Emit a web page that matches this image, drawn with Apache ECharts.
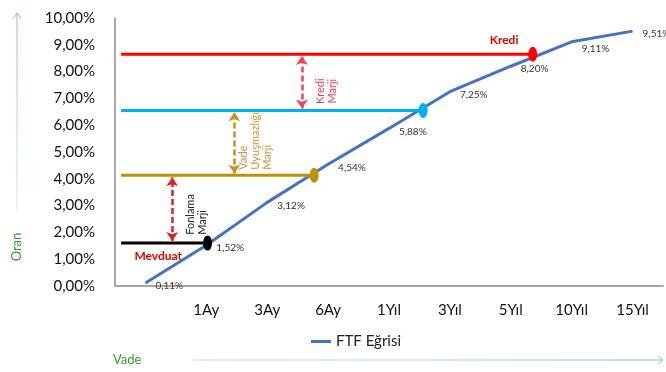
<!DOCTYPE html>
<html>
<head>
<meta charset="utf-8">
<script src="https://cdn.jsdelivr.net/npm/echarts@6/dist/echarts.min.js"></script>
<style>
  html, body { margin: 0; padding: 0; background: #fff; }
  #chart { width: 666px; height: 372px; }
</style>
</head>
<body>
<div id="chart"></div>
<script>
// Vade kategorileri ve FTF eğrisi (%)
const categories = ['', '1Ay', '3Ay', '6Ay', '1Yıl', '3Yıl', '5Yıl', '10Yıl', '15Yıl'];
const ftfValues = [0.11, 1.52, 3.12, 4.54, 5.88, 7.25, 8.20, 9.11, 9.51];

// Faiz seviyeleri: [başlangıç x, bitiş x (eğriyle kesişim), oran]
const krediLevel = [-0.4, 6.36, 8.65];
const vadeLevel = [-0.4, 4.56, 6.55];
const fonlamaLevel = [-0.4, 2.77, 4.13];
const mevduatLevel = [-0.4, 1.02, 1.60];

// Marj okları: [x, alt oran, üst oran]
const krediMarjArrow = [2.57, 6.62, 8.58];
const vadeMarjArrow = [1.46, 4.20, 6.48];
const fonlamaMarjArrow = [0.44, 1.68, 4.06];

const FONT = 'Lato, "Open Sans", sans-serif';
const fmtPct = v => v.toFixed(2).replace('.', ',') + '%';

function levelSeries(name, level, color) {
  return {
    name: name,
    type: 'line',
    xAxisIndex: 1,
    yAxisIndex: 0,
    data: [
      { value: [level[0], level[2]], symbol: 'none' },
      { value: [level[1], level[2]] }
    ],
    symbol: 'circle',
    symbolSize: [9, 15],
    showSymbol: true,
    itemStyle: { color: color },
    lineStyle: { color: color, width: 3 },
    emphasis: { disabled: true },
    silent: true,
    z: 3
  };
}

function arrowSeries(arrow, color) {
  return {
    type: 'line',
    xAxisIndex: 1,
    yAxisIndex: 0,
    data: [],
    silent: true,
    markLine: {
      silent: true,
      symbol: ['arrow', 'arrow'],
      symbolSize: [9, 9],
      label: { show: false },
      lineStyle: { color: color, width: 2.5, type: [6, 3] },
      data: [[{ coord: [arrow[0], arrow[1]] }, { coord: [arrow[0], arrow[2]] }]]
    }
  };
}

const chart = echarts.init(document.getElementById('chart'), null, { renderer: 'canvas' });

const option = {
  animation: false,
  textStyle: { fontFamily: FONT },
  grid: { left: 115, right: 3, top: 18, bottom: 86, containLabel: false },
  legend: {
    data: [{ name: 'FTF Eğrisi', icon: 'rect' }],
    bottom: 18,
    left: 306,
    itemWidth: 20,
    itemHeight: 3,
    itemGap: 4,
    textStyle: { fontFamily: FONT, fontSize: 15, color: '#222' }
  },
  xAxis: [
    {
      type: 'category',
      data: categories,
      boundaryGap: true,
      axisLine: { lineStyle: { color: '#a6a6a6', width: 2 } },
      axisTick: { show: false },
      axisLabel: { fontFamily: FONT, fontSize: 15, color: '#111', margin: 17 },
      splitLine: { show: false }
    },
    {
      type: 'value',
      min: -0.5,
      max: 8.5,
      show: false,
      splitLine: { show: false }
    }
  ],
  yAxis: {
    type: 'value',
    min: 0,
    max: 10,
    interval: 1,
    axisLine: { show: true, onZero: false, lineStyle: { color: '#8c8c8c', width: 1.5 } },
    axisTick: { show: false },
    splitLine: { show: false },
    axisLabel: {
      fontFamily: FONT, fontSize: 15, color: '#111', margin: 20,
      formatter: fmtPct
    }
  },
  series: [
    levelSeries('Kredi', krediLevel, '#ff0000'),
    levelSeries('Vade', vadeLevel, '#00b0f0'),
    levelSeries('Fonlama', fonlamaLevel, '#bf9000'),
    levelSeries('Mevduat', mevduatLevel, '#000000'),
    arrowSeries(krediMarjArrow, '#f0405a'),
    arrowSeries(vadeMarjArrow, '#c8902a'),
    arrowSeries(fonlamaMarjArrow, '#e02020'),
    {
      name: 'FTF Eğrisi',
      type: 'line',
      xAxisIndex: 0,
      yAxisIndex: 0,
      data: ftfValues.map((v, i) => (categories[i] === '10Yıl'
        ? { value: v, label: { position: [10, 7] } }
        : v)),
      symbol: 'circle',
      symbolSize: 0,
      showSymbol: true,
      itemStyle: { color: '#4472c4' },
      lineStyle: { color: '#4472c4', width: 3 },
      label: {
        show: true,
        position: [10, 3],
        align: 'left',
        verticalAlign: 'middle',
        fontFamily: FONT,
        fontSize: 10,
        color: '#333',
        formatter: p => fmtPct(p.value)
      },
      labelLayout: { hideOverlap: false },
      silent: true,
      z: 2
    }
  ]
};

chart.setOption(option);

// Açıklama metinleri ve eksen okları
function px(x, y) {
  return chart.convertToPixel({ xAxisIndex: 1, yAxisIndex: 0 }, [x, y]);
}

const krediText = px(5.89, 9.18);
const mevduatText = px(0.21, 1.12);
const krediMarjText = px(2.98, 7.27);
const vadeMarjText = px(1.80, 4.34);
const fonlamaMarjText = px(0.84, 1.91);

function rotatedText(pos, text, color, align) {
  return {
    type: 'text',
    x: pos[0],
    y: pos[1],
    rotation: Math.PI / 2,
    style: {
      text: text,
      fill: color,
      font: '11px ' + FONT,
      align: align,
      verticalAlign: 'middle',
      lineHeight: 12
    },
    z: 10
  };
}

chart.setOption({
  graphic: [
    {
      type: 'text', x: krediText[0], y: krediText[1],
      style: { text: 'Kredi', fill: '#e00000', font: 'bold 12px ' + FONT, align: 'center', verticalAlign: 'middle' }
    },
    {
      type: 'text', x: mevduatText[0], y: mevduatText[1],
      style: { text: 'Mevduat', fill: '#e00000', font: 'bold 12px ' + FONT, align: 'center', verticalAlign: 'middle' }
    },
    rotatedText(krediMarjText, 'Kredi\nMarji', '#f0405a', 'center'),
    rotatedText(vadeMarjText, 'Vade\nUyuşmazlığı\nMarji', '#c8963c', 'left'),
    rotatedText(fonlamaMarjText, 'Fonlama\nMarji', '#222', 'left'),
    // Dikey eksen başlığı ve oku
    {
      type: 'line',
      shape: { x1: 17, y1: 210, x2: 17, y2: 13 },
      style: {
        stroke: new echarts.graphic.LinearGradient(0, 1, 0, 0, [
          { offset: 0, color: '#dbe8f5' },
          { offset: 1, color: '#8fb8e0' }
        ]),
        lineWidth: 1
      }
    },
    {
      type: 'polyline',
      shape: { points: [[13, 19], [17, 13], [21, 19]] },
      style: { stroke: '#8fb8e0', lineWidth: 1, fill: null }
    },
    {
      type: 'text', x: 17, y: 247, rotation: Math.PI / 2,
      style: { text: 'Oran', fill: '#2e9e2e', font: '13px ' + FONT, align: 'center', verticalAlign: 'middle' }
    },
    // Yatay eksen başlığı ve oku
    {
      type: 'text', x: 113, y: 360,
      style: { text: 'Vade', fill: '#2e9e2e', font: '13px ' + FONT, align: 'left', verticalAlign: 'middle' }
    },
    {
      type: 'line',
      shape: { x1: 193, y1: 360, x2: 663, y2: 360 },
      style: {
        stroke: new echarts.graphic.LinearGradient(0, 0, 1, 0, [
          { offset: 0, color: '#c9dcf0' },
          { offset: 1, color: '#8fb8e0' }
        ]),
        lineWidth: 1
      }
    },
    {
      type: 'polyline',
      shape: { points: [[658, 356], [663, 360], [658, 364]] },
      style: { stroke: '#8fb8e0', lineWidth: 1, fill: null }
    }
  ]
});
</script>
</body>
</html>
